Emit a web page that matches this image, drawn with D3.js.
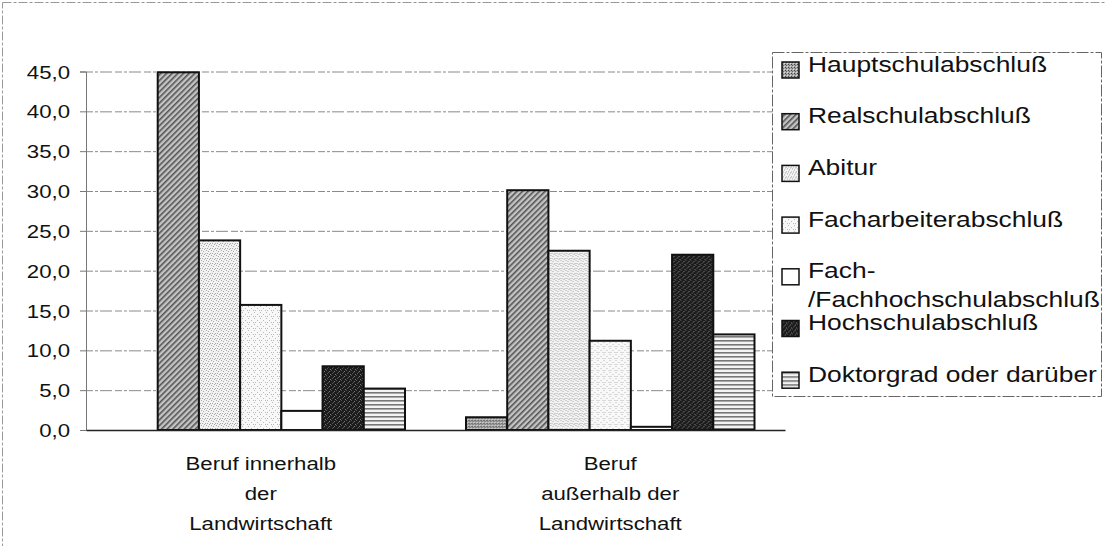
<!DOCTYPE html>
<html>
<head>
  <meta charset="utf-8">
  <title>Schulabschluss nach Beruf</title>
  <style>
  body { margin: 0; background: #fff; }
  text { font-family: "Liberation Sans", Arial, sans-serif; fill: #111; }
  .grid line { stroke: #8a8a8a; stroke-width: 1; stroke-dasharray: 7,2,3,2,12,3; }
  .bar { stroke: #111; stroke-width: 2; }
  </style>
</head>
<body>
<script src="https://cdnjs.cloudflare.com/ajax/libs/d3/7.8.5/d3.min.js"></script>
<script>
// data (percent)
var categories = ["Beruf innerhalb der Landwirtschaft", "Beruf außerhalb der Landwirtschaft"];
var categoryLines = [["Beruf innerhalb", "der", "Landwirtschaft"],
                     ["Beruf", "außerhalb der", "Landwirtschaft"]];
var series = ["Hauptschulabschluß", "Realschulabschluß", "Abitur", "Facharbeiterabschluß",
              "Fach-/Fachhochschulabschluß", "Hochschulabschluß", "Doktorgrad oder darüber"];
var legendLines = [["Hauptschulabschluß"], ["Realschulabschluß"], ["Abitur"], ["Facharbeiterabschluß"],
                   ["Fach-", "/Fachhochschulabschluß"], ["Hochschulabschluß"], ["Doktorgrad oder darüber"]];
var innerhalb = [0, 44.9, 23.8, 15.7, 2.4, 8.0, 5.2];
var ausserhalb = [1.6, 30.1, 22.5, 11.2, 0.4, 22.0, 12.0];
var yTicks = [0, 5, 10, 15, 20, 25, 30, 35, 40, 45];

var values = [innerhalb, ausserhalb];
var W = 1105, H = 546;
var plot = {left: 86, right: 785, top: 71.5, bottom: 430};
var sx = 1.2; // the printed text is horizontally stretched

var de = d3.formatLocale({decimal: ",", thousands: ".", grouping: [3], currency: ["", " €"]});
var fmt = de.format(".1f");

var svg = d3.select("body").append("svg")
    .attr("width", W)
    .attr("height", H);

// fill patterns like the printed chart
var defs = svg.append("defs");
function pat(id, w, h, bg) {
  var p = defs.append("pattern").attr("id", id).attr("patternUnits", "userSpaceOnUse")
      .attr("width", w).attr("height", h);
  p.append("rect").attr("width", w).attr("height", h).attr("fill", bg);
  return p;
}
var p0 = pat("p0", 3, 3, "#a8a8a8");
p0.append("rect").attr("x", 0).attr("y", 0).attr("width", 1).attr("height", 1).attr("fill", "#444");
p0.append("rect").attr("x", 1).attr("y", 1).attr("width", 1).attr("height", 1).attr("fill", "#666");
p0.append("rect").attr("x", 2).attr("y", 2).attr("width", 1).attr("height", 1).attr("fill", "#ddd");

var p1 = pat("p1", 4, 4, "#c4c4c4");
p1.attr("patternTransform", "rotate(45)");
p1.append("rect").attr("x", 0).attr("y", 0).attr("width", 1.6).attr("height", 4).attr("fill", "#555");

var p2 = pat("p2", 5, 5, "#f2f2f2");
[[0,0],[2,1],[4,3],[1,3],[3,4]].forEach(function(d) {
  p2.append("rect").attr("x", d[0]).attr("y", d[1]).attr("width", 1).attr("height", 1).attr("fill", "#aaa");
});

var p3 = pat("p3", 6, 6, "#f8f8f8");
[[0,0],[3,2],[5,4],[1,4]].forEach(function(d) {
  p3.append("rect").attr("x", d[0]).attr("y", d[1]).attr("width", 1).attr("height", 1).attr("fill", "#b8b8b8");
});

pat("p4", 4, 4, "#ffffff");

var p5 = pat("p5", 5, 5, "#1c1c1c");
[[0,0],[3,1],[1,3],[4,4],[2,2]].forEach(function(d, i) {
  p5.append("rect").attr("x", d[0]).attr("y", d[1]).attr("width", 1).attr("height", 1)
    .attr("fill", i % 2 ? "#777" : "#555");
});

var p6 = pat("p6", 4, 4, "#f4f4f4");
p6.append("rect").attr("x", 0).attr("y", 0).attr("width", 4).attr("height", 1.6).attr("fill", "#777");

var fills = series.map(function(d, i) { return "url(#p" + i + ")"; });

// outer frame (cut off at right and bottom)
svg.append("rect")
    .attr("x", 2.5).attr("y", 2.5)
    .attr("width", W + 20).attr("height", H + 20)
    .attr("fill", "none")
    .attr("stroke", "#999")
    .attr("stroke-dasharray", "9,2,3,2");

// scales
var x0 = d3.scaleBand()
    .domain(categories)
    .range([plot.left, plot.right]);
var x1 = d3.scaleBand()
    .domain(series)
    .range([0, x0.bandwidth()])
    .paddingOuter(0.74);
var y = d3.scaleLinear()
    .domain([0, 45])
    .range([plot.bottom, plot.top]);

// gridlines
svg.append("g")
    .attr("class", "grid")
    .attr("transform", "translate(" + plot.left + ",0)")
    .call(d3.axisLeft(y).tickValues(yTicks.slice(1)).tickSize(-(plot.right - plot.left)).tickFormat(""))
    .call(function(g) { g.select(".domain").remove(); });

// y axis
var yAxis = svg.append("g")
    .attr("transform", "translate(" + plot.left + ",0)")
    .call(d3.axisLeft(y).tickValues(yTicks).tickSize(6).tickPadding(0).tickFormat(fmt));
yAxis.select(".domain").attr("stroke", "#777");
yAxis.selectAll(".tick line").attr("stroke", "#777");
yAxis.selectAll(".tick text")
    .attr("font-size", 18.5)
    .attr("font-family", "Liberation Sans, Arial, sans-serif")
    .attr("fill", "#111")
    .attr("x", -16 / sx)
    .attr("dy", "0.36em")
    .attr("transform", "scale(" + sx + ",1)");

// bars
var groups = svg.append("g").selectAll("g")
    .data(categories)
  .enter().append("g")
    .attr("transform", function(d) { return "translate(" + x0(d) + ",0)"; });

groups.selectAll("rect")
    .data(function(d, i) { return series.map(function(s, j) { return {s: s, v: values[i][j], j: j}; }); })
  .enter().filter(function(d) { return d.v > 0; }).append("rect")
    .attr("class", "bar")
    .attr("x", function(d) { return x1(d.s); })
    .attr("width", x1.bandwidth())
    .attr("y", function(d) { return y(d.v); })
    .attr("height", function(d) { return y(0) - y(d.v); })
    .attr("fill", function(d) { return fills[d.j]; });

// x axis
var xAxis = svg.append("g")
    .attr("transform", "translate(0," + plot.bottom + ")")
    .call(d3.axisBottom(x0).tickSize(0).tickFormat(""));
xAxis.select(".domain").attr("stroke", "#222").attr("stroke-width", 1.5);

xAxis.selectAll(".tick").each(function(d, i) {
  var t = d3.select(this).append("text")
      .attr("transform", "scale(" + sx + ",1)")
      .attr("text-anchor", "middle")
      .attr("font-size", 18.5)
      .attr("fill", "#111");
  categoryLines[i].forEach(function(line, k) {
    t.append("tspan").attr("x", 0).attr("y", 40 + k * 30).text(line);
  });
});

// legend
var legend = svg.append("g");
legend.append("rect")
    .attr("x", 772.5).attr("y", 52.5)
    .attr("width", 329).attr("height", 344)
    .attr("fill", "#fff")
    .attr("stroke", "#666")
    .attr("stroke-dasharray", "12,2,3,2");

var items = legend.selectAll(".item")
    .data(series)
  .enter().append("g")
    .attr("class", "item")
    .attr("transform", function(d, i) { return "translate(782," + (70 + i * 51.7) + ")"; });

items.append("rect")
    .attr("x", 0).attr("y", -8)
    .attr("width", 17).attr("height", 16)
    .attr("fill", function(d, i) { return fills[i]; })
    .attr("stroke", "#111")
    .attr("stroke-width", 1.5);

items.append("text")
    .attr("transform", "translate(26,0) scale(" + sx + ",1)")
    .attr("font-size", 22)
    .each(function(d, i) {
      var t = d3.select(this);
      legendLines[i].forEach(function(line, k) {
        t.append("tspan").attr("x", 0).attr("y", 1.5 + k * 29).text(line);
      });
    });
</script>
</body>
</html>
